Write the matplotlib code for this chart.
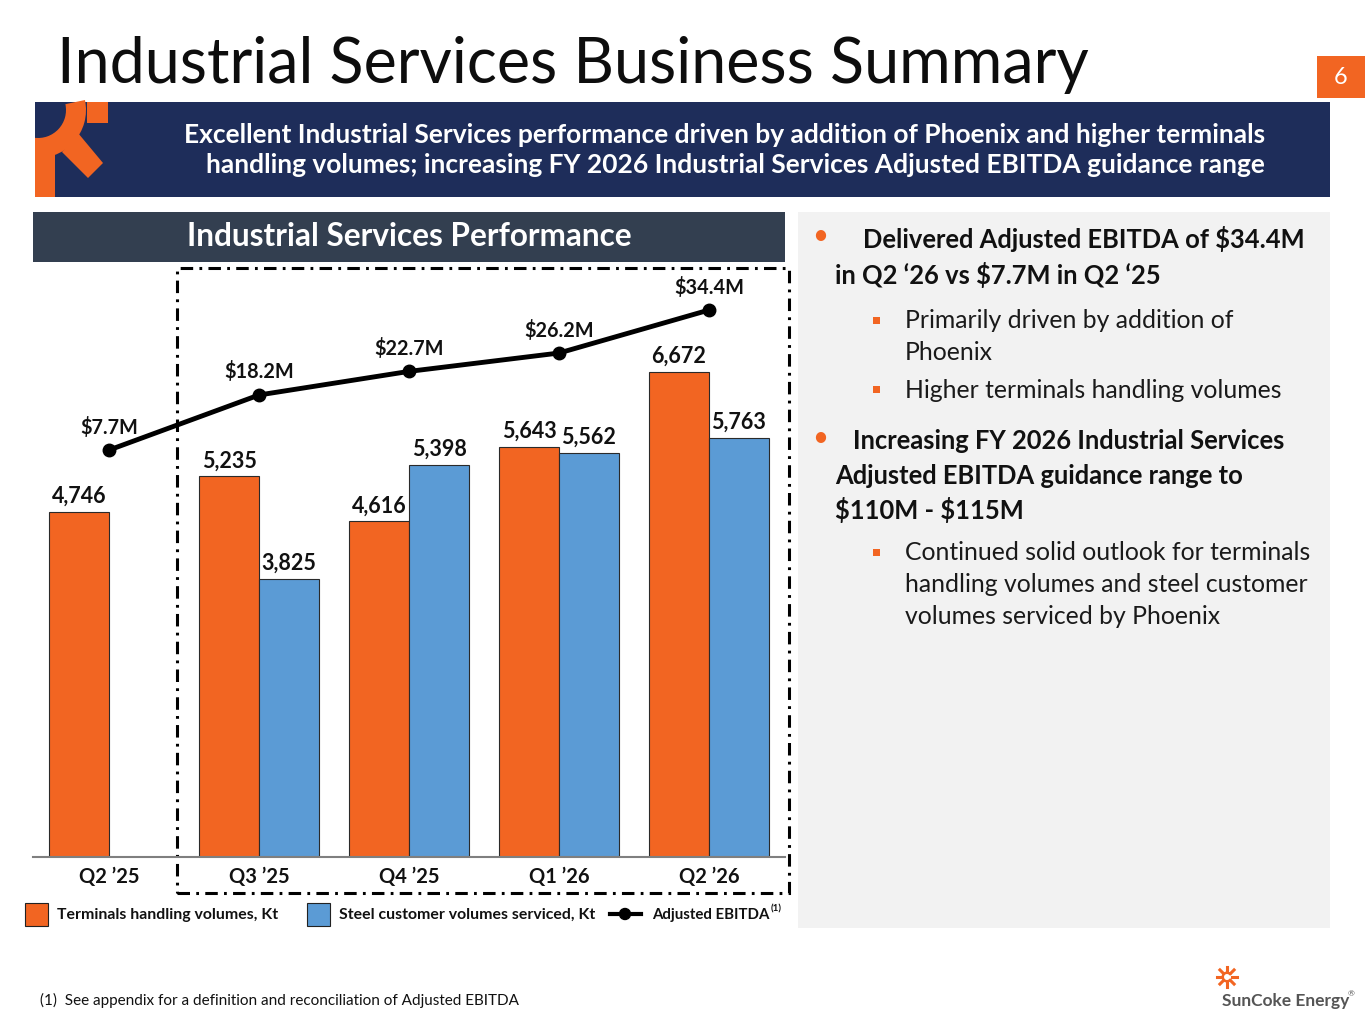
import numpy as np
import matplotlib
matplotlib.use("Agg")
import matplotlib.pyplot as plt
from matplotlib.patches import Rectangle, Wedge, Polygon, Circle
from matplotlib.lines import Line2D

plt.rcParams['font.family'] = ['Lato', 'DejaVu Sans']
plt.rcParams['lines.scale_dashes'] = False

# ---------------- data ----------------
quarters = ["Q2 \u201925", "Q3 \u201925", "Q4 \u201925", "Q1 \u201926", "Q2 \u201926"]
terminals_kt = [4746, 5235, 4616, 5643, 6672]
steel_kt = [np.nan, 3825, 5398, 5562, 5763]
ebitda_m = [7.7, 18.2, 22.7, 26.2, 34.4]

ORANGE = "#F26522"
BLUE = "#5B9BD5"
NAVY = "#1E2D5A"
SLATE = "#333F50"
PANEL = "#F2F2F2"
TXT = "#111111"

W, H = 1365, 1024
fig = plt.figure(figsize=(W / 100, H / 100), dpi=100)

ax0 = fig.add_axes([0, 0, 1, 1], zorder=0)
ax0.set_xlim(0, W)
ax0.set_ylim(0, H)
ax0.axis("off")


def Y(y):
    return H - y


def rect(x0, y0, x1, y1, **kw):
    ax0.add_patch(Rectangle((x0, Y(y1)), x1 - x0, y1 - y0, **kw))


def txt(x, y, s, **kw):
    kw.setdefault("parse_math", False)
    ax0.text(x, Y(y), s, **kw)


# title
txt(57, 83, "Industrial Services Business Summary", fontsize=45.2,
    color="#0d0d0d", ha="left", va="baseline")
# page number
rect(1317, 56, 1365, 98, facecolor=ORANGE, edgecolor="none")
txt(1341, 78, "6", fontsize=17, color="white", ha="center", va="center")

# banner
rect(35, 102, 1330, 197, facecolor=NAVY, edgecolor="none")
# logo fragment
ax0.add_patch(Wedge((38, Y(110)), 48, 262, 372, width=20, facecolor=ORANGE, edgecolor="none"))
rect(35, 145, 55, 197, facecolor=ORANGE, edgecolor="none")
ax0.add_patch(Polygon([(78, Y(133)), (103, Y(163)), (88, Y(178)), (62, Y(152))],
                      closed=True, facecolor=ORANGE, edgecolor="none"))
rect(87, 102, 108, 123, facecolor=ORANGE, edgecolor="none")
rect(0, 95, 35, 205, facecolor="white", edgecolor="none")

txt(1265, 135, "Excellent Industrial Services performance driven by addition of Phoenix and higher terminals",
    fontsize=19, fontweight="bold", color="white", ha="right", va="center")
txt(1265, 165, "handling volumes; increasing FY 2026 Industrial Services Adjusted EBITDA guidance range",
    fontsize=19, fontweight="bold", color="white", ha="right", va="center")

# section header
rect(33, 212, 785, 262, facecolor=SLATE, edgecolor="none")
txt(409, 237, "Industrial Services Performance", fontsize=22.7, fontweight="bold",
    color="white", ha="center", va="center")

# right panel
rect(798, 212, 1330, 928, facecolor=PANEL, edgecolor="none")

bold_kw = dict(fontsize=18.4, fontweight="bold", color=TXT, ha="left", va="center")
reg_kw = dict(fontsize=17.8, color="#1a1a1a", ha="left", va="center")
txt(812, 236, "\u2022", fontsize=20, color=ORANGE, ha="left", va="center")
txt(863, 239, "Delivered Adjusted EBITDA of $34.4M", **bold_kw)
txt(835, 275, "in Q2 \u201826 vs $7.7M in Q2 \u201825", **bold_kw)
for yy in (321, 390):
    rect(873, yy - 4, 880, yy + 3, facecolor=ORANGE, edgecolor="none")
txt(905, 321, "Primarily driven by addition of", **reg_kw)
txt(905, 353, "Phoenix", **reg_kw)
txt(905, 390, "Higher terminals handling volumes", **reg_kw)
txt(812, 438, "\u2022", fontsize=20, color=ORANGE, ha="left", va="center")
txt(853, 441, "Increasing FY 2026 Industrial Services", **bold_kw)
txt(835, 476, "Adjusted EBITDA guidance range to", **bold_kw)
txt(835, 510, "$110M - $115M", **bold_kw)
rect(873, 549, 880, 556, facecolor=ORANGE, edgecolor="none")
txt(905, 553, "Continued solid outlook for terminals", **reg_kw)
txt(905, 585, "handling volumes and steel customer", **reg_kw)
txt(905, 617, "volumes serviced by Phoenix", **reg_kw)

# dash-dot frame
ax0.add_patch(Rectangle((177, Y(893)), 789 - 177, 893 - 268, fill=False, edgecolor="black",
                        linewidth=2.2, linestyle=(0, (9, 4.5, 2, 4.5)), zorder=5))

# legend (manual)
leg_kw = dict(fontsize=11.4, fontweight="bold", color=TXT, ha="left", va="center")
rect(25, 903, 48, 926, facecolor=ORANGE, edgecolor="#222222", linewidth=0.8)
txt(57, 915, "Terminals handling volumes, Kt", **leg_kw)
rect(307, 903, 330, 926, facecolor=BLUE, edgecolor="#222222", linewidth=0.8)
txt(339, 915, "Steel customer volumes serviced, Kt", **leg_kw)
ax0.add_line(Line2D([610, 641], [Y(914), Y(914)], color="black", linewidth=3))
ax0.add_patch(Circle((625, Y(914)), 5.5, color="black"))
txt(652, 915, "Adjusted EBITDA", fontsize=10.8, fontweight="bold", color=TXT, ha="left", va="center")
txt(771, 909, "(1)", fontsize=7, fontweight="bold", color=TXT, ha="left", va="center")

# footnote
txt(40, 1000, "(1)  See appendix for a definition and reconciliation of Adjusted EBITDA",
    fontsize=11, color=TXT, ha="left", va="center")

# SunCoke logo
sx, sy = 1227, Y(977)
for ang in np.arange(0, 360, 45):
    a = np.deg2rad(ang)
    ax0.add_line(Line2D([sx + 5 * np.cos(a), sx + 10 * np.cos(a)],
                        [sy + 5 * np.sin(a), sy + 10 * np.sin(a)], color=ORANGE, linewidth=2.2))
ax0.add_patch(Wedge((sx, sy), 5.5, 30, 330, width=2.5, facecolor=ORANGE, edgecolor="none"))
txt(1222, 1001, "SunCoke Energy", fontsize=12.5, fontweight="bold", color="#555555",
    ha="left", va="center")
txt(1348, 994, "\u00ae", fontsize=6, color="#555555", ha="left", va="center")

# ---------------- chart ----------------
x0f, x1f = 33 / W, 785 / W
y0f, y1f = 1 - 857 / H, 1 - 262 / H
ax = fig.add_axes([x0f, y0f, x1f - x0f, y1f - y0f], zorder=2)
ax.patch.set_alpha(0)
x = np.arange(len(quarters))
bw = 0.4
ax.bar(x - bw / 2, terminals_kt, width=bw, color=ORANGE, edgecolor="#2a2a2a", linewidth=0.8)
ax.bar(x + bw / 2, steel_kt, width=bw, color=BLUE, edgecolor="#2a2a2a", linewidth=0.8)
ax.set_xlim(-0.507, 4.507)
ax.set_ylim(0, 8184)
for s in ("top", "right", "left"):
    ax.spines[s].set_visible(False)
ax.spines["bottom"].set_color("#7f7f7f")
ax.spines["bottom"].set_linewidth(1.5)
ax.set_yticks([])
ax.set_xticks(x)
ax.set_xticklabels(quarters, fontsize=14.5, fontweight="bold", color=TXT)
ax.tick_params(axis="x", length=0, pad=7)

lab_kw = dict(textcoords="offset points", ha="center", va="bottom", fontsize=15.5,
              fontweight="bold", color=TXT)
for xi, v in zip(x, terminals_kt):
    ax.annotate(f"{v:,}", (xi - bw / 2, v), xytext=(0, 3.5), **lab_kw)
for xi, v in zip(x, steel_kt):
    if not np.isnan(v):
        ax.annotate(f"{int(v):,}", (xi + bw / 2, v), xytext=(0, 3.5), **lab_kw)

ax2 = ax.twinx()
ax2.set_ylim(-69.9, 43.56)
ax2.axis("off")
ax2.plot(x, ebitda_m, color="black", linewidth=3.5, marker="o", markersize=9, zorder=4)
for xi, v in zip(x, ebitda_m):
    ax2.annotate(f"${v}M", (xi, v), xytext=(0, 9), textcoords="offset points",
                 ha="center", va="bottom", fontsize=14.3, fontweight="bold", color=TXT,
                 parse_math=False)

fig.savefig("out.png", dpi=100)
